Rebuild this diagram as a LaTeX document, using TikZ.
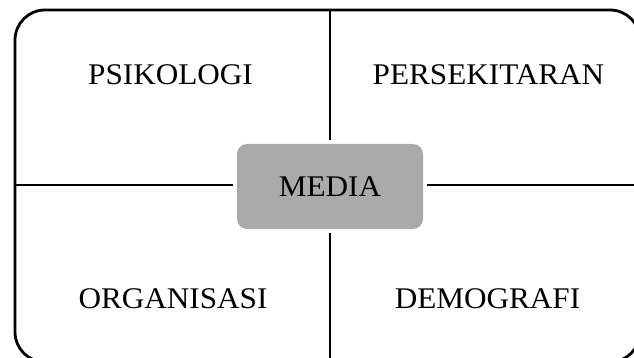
\documentclass[tikz,border=0pt]{standalone}
\usepackage{fontspec}
\setmainfont{Liberation Serif}
\definecolor{boxgray}{RGB}{170,170,170}
\begin{document}
\begin{tikzpicture}[x=1pt,y=1pt,
  label/.style={font=\fontsize{30}{34}\selectfont, inner sep=0pt, anchor=base},
  frame/.style={line width=2.8pt},
  divider/.style={line width=2.8pt},
  mediabox/.style={fill=boxgray, rounded corners=10pt, minimum width=186pt, minimum height=85pt, inner sep=0pt, outer sep=4pt, font=\fontsize{30}{34}\selectfont}]
\useasboundingbox (0,0) rectangle (634,-358);
\draw[frame, rounded corners=30pt] (15,-10) rectangle (640,-362);
\node[mediabox] (media) at (330,-186.5) {\raisebox{-4.5pt}{\scalebox{1.04}[1]{MEDIA}}};
\coordinate (top) at (330,-10);
\coordinate (bottom) at (330,-362);
\coordinate (left) at (15,-185);
\coordinate (right) at (640,-185);
\draw[divider] (top) -- (top |- media.north);
\draw[divider] (media.south -| bottom) -- (bottom);
\draw[divider] (left) -- (left -| media.west);
\draw[divider] (right -| media.east) -- (right);
\node[label] (psi) at (170.5,-85) {\scalebox{1.04}[1]{PSIKOLOGI}};
\node[label] (per) at (488.5,-85) {\scalebox{1.04}[1]{PERSEKITARAN}};
\node[label] (org) at (173,-308) {\scalebox{1.04}[1]{ORGANISASI}};
\node[label] (dem) at (487.5,-308) {\scalebox{1.04}[1]{DEMOGRAFI}};
\end{tikzpicture}
\end{document}
